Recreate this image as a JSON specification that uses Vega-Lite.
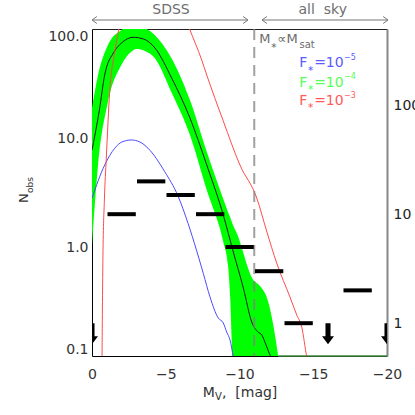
{
"$schema":"https://vega.github.io/schema/vega-lite/v6.json",
"width":295,"height":327,
"autosize":{"type":"none"},
"padding":{"left":92,"top":29,"right":28,"bottom":59},
"background":"white",
"config":{"view":{"stroke":null},"font":"DejaVu Sans","axis":{"grid":false,"labelFont":"DejaVu Sans","labelFontSize":14,"labelColor":"#333333","zindex":1,"labelOverlap":false,"tickSize":0,"domainWidth":1,"domainColor":"#000000","tickColor":"#000000"}},
"datasets":{
"band":[
{"M":0,"hi":18.85,"lo":1.04},{"M":-0.41,"hi":37.8,"lo":5.65},{"M":-1.08,"hi":71.3,"lo":21.4},{"M":-1.99,"hi":97.9,"lo":46.7},{"M":-2.64,"hi":108.8,"lo":61.5},{"M":-3.0,"hi":108.8,"lo":65.5},{"M":-3.59,"hi":102.1,"lo":62.8},{"M":-4.25,"hi":88.1,"lo":54.2},{"M":-5.38,"hi":54.2,"lo":26.4},{"M":-6.64,"hi":22.3,"lo":10.65},{"M":-7.78,"hi":7.49,"lo":3.33},{"M":-8.9,"hi":2.76,"lo":1.11},{"M":-9.22,"hi":2.1,"lo":0.684},{"M":-9.36,"hi":1.885,"lo":0.363},{"M":-9.53,"hi":1.626,"lo":0.092},{"M":-9.81,"hi":1.344,"lo":0.05},{"M":-10.94,"hi":0.498,"lo":0.05},{"M":-11.39,"hi":0.439,"lo":0.05},{"M":-11.95,"hi":0.313,"lo":0.05},{"M":-12.29,"hi":0.1925,"lo":0.05},{"M":-12.63,"hi":0.098,"lo":0.05}],
"median":[
{"M":0,"N":7.76},{"M":-0.2,"N":10.65},{"M":-0.5,"N":18.07},{"M":-0.86,"N":37.84},{"M":-1.49,"N":61.5},{"M":-2.0,"N":74.4},{"M":-2.78,"N":83.9},{"M":-3.5,"N":80.9},{"M":-4.27,"N":66.9},{"M":-5.4,"N":35.5},{"M":-6.64,"N":15.26},{"M":-7.78,"N":5.65},{"M":-8.9,"N":1.966},{"M":-9.58,"N":0.9},{"M":-10.26,"N":0.4206},{"M":-10.83,"N":0.205},{"M":-11.25,"N":0.166},{"M":-11.51,"N":0.156},{"M":-11.8,"N":0.126},{"M":-12.1,"N":0.1},{"M":-12.2,"N":0.095}],
"f5":[
{"M":0,"N":2.815},{"M":-0.86,"N":5.65},{"M":-1.54,"N":8.05},{"M":-2.03,"N":9.19},{"M":-2.66,"N":9.59},{"M":-3.25,"N":9.19},{"M":-3.8,"N":8.05},{"M":-4.93,"N":4.91},{"M":-5.83,"N":2.94},{"M":-6.51,"N":1.65},{"M":-7.1,"N":0.92},{"M":-7.55,"N":0.57},{"M":-8.0,"N":0.348},{"M":-8.56,"N":0.223},{"M":-8.9,"N":0.201},{"M":-9.13,"N":0.166},{"M":-9.36,"N":0.14},{"M":-9.58,"N":0.098},{"M":-9.7,"N":0.08}],
"f3":[
{"M":-0.68,"N":0.098},{"M":-0.74,"N":0.8},{"M":-0.84,"N":2.7},{"M":-0.97,"N":6.55},{"M":-1.2,"N":26.6},{"M":-1.54,"N":61.9},{"M":-1.88,"N":108.8},{"M":-3.5,"N":600},{"M":-5.0,"N":500},{"M":-6.4,"N":120},{"M":-6.6,"N":101.5},{"M":-7.44,"N":51.9},{"M":-7.78,"N":37.8},{"M":-8.9,"N":14.3},{"M":-10.03,"N":5.65},{"M":-11.17,"N":2.815},{"M":-11.84,"N":1.402},{"M":-12.52,"N":0.713},{"M":-13.42,"N":0.348},{"M":-13.88,"N":0.238},{"M":-14.22,"N":0.1845},{"M":-14.56,"N":0.098},{"M":-14.7,"N":0.08}],
"sdss":[{"lo":-1.05,"hi":-2.97,"N":2},{"lo":-3.05,"hi":-4.97,"N":4},{"lo":-5.05,"hi":-6.97,"N":3},{"lo":-7.05,"hi":-8.97,"N":2},{"lo":-9.05,"hi":-10.97,"N":1}],
"allsky":[{"lo":-11.05,"hi":-12.97,"n":3},{"lo":-13.05,"hi":-14.97,"n":1},{"lo":-17.05,"hi":-18.97,"n":2}],
"limits":[{"M":0,"n":1},{"M":-16,"n":1},{"M":-20,"n":1}],
"cut":[{"M":-11}],
"floor":[{"M":-12.63,"M2":-20,"N":0.1}],
"spans":[{"M":0,"M2":-10.576,"N":120.9},{"M":-11.525,"M2":-20.07,"N":120.9}],
"headsL":[{"M":0,"N":120.9},{"M":-11.525,"N":120.9}],
"headsR":[{"M":-10.576,"N":120.9},{"M":-20.07,"N":120.9}],
"regions":[{"t":"SDSS","M":-5.356,"N":138.7},{"t":"all\u00a0\u00a0sky","M":-15.64,"N":138.7}],
"txt13":[{"t":"M","M":-11.34,"N":74.4,"c":"note"},{"t":"∝M","M":-12.56,"N":74.4,"c":"note"}],
"txt14":[
{"t":"F","M":-14.05,"N":44.5,"c":"b"},{"t":"=10","M":-15.06,"N":44.5,"c":"b"},
{"t":"F","M":-14.05,"N":29.55,"c":"g"},{"t":"=10","M":-15.06,"N":29.55,"c":"g"},
{"t":"F","M":-14.05,"N":20.08,"c":"r"},{"t":"=10","M":-15.06,"N":20.08,"c":"r"},
{"t":"M","M":-7.505,"N":0.04206,"c":"axis"},{"t":",\u00a0\u00a0[mag]","M":-8.81,"N":0.04206,"c":"axis"}],
"sub10":[{"t":"sat","M":-14.07,"N":66.9,"c":"note"},{"t":"V","M":-8.34,"N":0.03947,"c":"axis"}],
"sup8":[{"t":"−5","M":-17.08,"N":51.9,"c":"b"},{"t":"−4","M":-17.08,"N":34.5,"c":"g"},{"t":"−3","M":-17.08,"N":23.43,"c":"r"}],
"star8":[{"t":"∗","M":-12.1,"N":66.5,"c":"note"},{"t":"∗","M":-14.6,"N":41.5,"c":"b"},{"t":"∗","M":-14.6,"N":27.56,"c":"g"},{"t":"∗","M":-14.6,"N":18.73,"c":"r"}],
"ytN":[{"t":"N","M":4.339,"N":2.533}],
"ytObs":[{"t":"obs","M":4.0,"N":3.129}]
},
"resolve":{"scale":{"y":"independent"},"axis":{"x":"independent","y":"independent"}},
"layer":[
{"data":{"name":"band"},"mark":{"type":"area","color":"#00ff00","opacity":1,"interpolate":"monotone","clip":true},
 "encoding":{
  "x":{"field":"M","type":"quantitative","scale":{"domain":[-20,0],"reverse":true,"nice":false,"zero":false},
   "axis":{"orient":"bottom","title":null,"values":[-20,-19,-18,-17,-16,-15,-14,-13,-12,-11,-10,-9,-8,-7,-6,-5,-4,-3,-2,-1,0],"format":"d","labelExpr":"datum.value % 5 === 0 ? datum.label : ''","labelPadding":11,"labelFlush":false,"tickColor":"#555555","encode":{"ticks":{"update":{"y2":{"signal":"datum.value % 5 === 0 ? -6 : -3"}}}}}},
  "y":{"field":"hi","type":"quantitative","scale":{"type":"log","domain":[0.1,100],"nice":false},
   "axis":{"orient":"left","title":null,"values":[0.1,0.2,0.3,0.4,0.5,0.6,0.7,0.8,0.9,1,2,3,4,5,6,7,8,9,10,20,30,40,50,60,70,80,90,100],"labelExpr":"datum.value === 100 ? '100.0' : datum.value === 10 ? '10.0' : datum.value === 1 ? '1.0' : datum.value === 0.1 ? '0.1' : ''","labelPadding":4,"labelFlush":true,"encode":{"ticks":{"update":{"x2":{"signal":"indexof([0.1,1,10,100], datum.value) >= 0 ? 8 : 4"}}}}}},
  "y2":{"field":"lo"}}},
{"data":{"name":"floor"},"mark":{"type":"rule","color":"#3c8a3c","strokeWidth":1.5},
 "encoding":{"x":{"field":"M","type":"quantitative","scale":{"domain":[-20,0],"reverse":true,"nice":false,"zero":false},"axis":null},"x2":{"field":"M2"},
  "y":{"field":"N","type":"quantitative","scale":{"type":"log","domain":[0.1,100],"nice":false},"axis":null}}},
{"data":{"name":"median"},"mark":{"type":"line","color":"#1a1a1a","strokeWidth":1,"interpolate":"monotone","clip":true},
 "encoding":{"x":{"field":"M","type":"quantitative","scale":{"domain":[-20,0],"reverse":true,"nice":false,"zero":false},"axis":null},
  "y":{"field":"N","type":"quantitative","scale":{"type":"log","domain":[0.1,100],"nice":false},"axis":null}}},
{"data":{"name":"f5"},"mark":{"type":"line","color":"#4b4bff","strokeWidth":1,"interpolate":"monotone","clip":true},
 "encoding":{"x":{"field":"M","type":"quantitative","scale":{"domain":[-20,0],"reverse":true,"nice":false,"zero":false},"axis":null},
  "y":{"field":"N","type":"quantitative","scale":{"type":"log","domain":[0.1,100],"nice":false},"axis":null}}},
{"data":{"name":"f3"},"mark":{"type":"line","color":"#ff4b4b","strokeWidth":1,"interpolate":"monotone","clip":true},
 "encoding":{"x":{"field":"M","type":"quantitative","scale":{"domain":[-20,0],"reverse":true,"nice":false,"zero":false},"axis":null},
  "y":{"field":"N","type":"quantitative","scale":{"type":"log","domain":[0.1,100],"nice":false},"axis":null}}},
{"data":{"name":"cut"},"mark":{"type":"rule","color":"#808080","opacity":0.75,"strokeWidth":2,"strokeDash":[11,7]},
 "encoding":{"x":{"field":"M","type":"quantitative","scale":{"domain":[-20,0],"reverse":true,"nice":false,"zero":false},"axis":null}}},
{"data":{"name":"sdss"},"mark":{"type":"rule","color":"#000000","strokeWidth":4,"strokeCap":"butt"},
 "encoding":{"x":{"field":"lo","type":"quantitative","scale":{"domain":[-20,0],"reverse":true,"nice":false,"zero":false},"axis":null},"x2":{"field":"hi"},
  "y":{"field":"N","type":"quantitative","scale":{"type":"log","domain":[0.1,100],"nice":false},"axis":null}}},
{"data":{"name":"allsky"},"mark":{"type":"rule","color":"#000000","strokeWidth":4,"strokeCap":"butt"},
 "encoding":{"x":{"field":"lo","type":"quantitative","scale":{"domain":[-20,0],"reverse":true,"nice":false,"zero":false},
   "axis":{"orient":"top","title":null,"labels":false,"values":[-20,-19,-18,-17,-16,-15,-14,-13,-12,-11,-10,-9,-8,-7,-6,-5,-4,-3,-2,-1,0],"domainColor":"#222222","tickColor":"#555555","encode":{"ticks":{"update":{"y2":{"signal":"datum.value % 5 === 0 ? 6 : 3"}}}}}},
  "x2":{"field":"hi"},
  "y":{"field":"n","type":"quantitative","scale":{"type":"log","domain":[0.5,500],"nice":false},
   "axis":{"orient":"right","title":null,"values":[0.5,0.6,0.7,0.8,0.9,1,2,3,4,5,6,7,8,9,10,20,30,40,50,60,70,80,90,100,200,300,400,500],"labelExpr":"datum.value === 1 ? '1' : datum.value === 10 ? '10' : datum.value === 100 ? '100' : ''","labelPadding":6,"labelFlush":false,"labelColor":"#222222","domainColor":"#888888","domainWidth":2,"tickColor":"#888888","encode":{"ticks":{"update":{"x2":{"signal":"indexof([1,10,100], datum.value) >= 0 ? -8 : -4"}}}}}}}},
{"data":{"name":"limits"},"mark":{"type":"point","shape":"M-0.24,0L0.24,0L0.24,1.24L0.57,1.24L0,2L-0.57,1.24L-0.24,1.24Z","size":441,"filled":true,"color":"#000000","strokeWidth":0,"opacity":1,"clip":true},
 "encoding":{"x":{"field":"M","type":"quantitative","scale":{"domain":[-20,0],"reverse":true,"nice":false,"zero":false},"axis":null},
  "y":{"field":"n","type":"quantitative","scale":{"type":"log","domain":[0.5,500],"nice":false},"axis":null}}},
{"data":{"name":"spans"},"mark":{"type":"rule","color":"#777777","strokeWidth":1},
 "encoding":{"x":{"field":"M","type":"quantitative","scale":{"domain":[-20,0],"reverse":true,"nice":false,"zero":false},"axis":null},"x2":{"field":"M2"},
  "y":{"field":"N","type":"quantitative","scale":{"type":"log","domain":[0.1,100],"nice":false},"axis":null}}},
{"data":{"name":"headsL"},"mark":{"type":"point","shape":"M1.4,-1L0,0L1.4,1","size":49,"filled":false,"stroke":"#777777","strokeWidth":1,"opacity":1},
 "encoding":{"x":{"field":"M","type":"quantitative","scale":{"domain":[-20,0],"reverse":true,"nice":false,"zero":false},"axis":null},
  "y":{"field":"N","type":"quantitative","scale":{"type":"log","domain":[0.1,100],"nice":false},"axis":null}}},
{"data":{"name":"headsR"},"mark":{"type":"point","shape":"M-1.4,-1L0,0L-1.4,1","size":49,"filled":false,"stroke":"#777777","strokeWidth":1,"opacity":1},
 "encoding":{"x":{"field":"M","type":"quantitative","scale":{"domain":[-20,0],"reverse":true,"nice":false,"zero":false},"axis":null},
  "y":{"field":"N","type":"quantitative","scale":{"type":"log","domain":[0.1,100],"nice":false},"axis":null}}},
{"data":{"name":"regions"},"mark":{"type":"text","align":"center","baseline":"alphabetic","fontSize":14,"font":"DejaVu Sans","color":"#6e6e6e"},
 "encoding":{"x":{"field":"M","type":"quantitative","scale":{"domain":[-20,0],"reverse":true,"nice":false,"zero":false},"axis":null},
  "y":{"field":"N","type":"quantitative","scale":{"type":"log","domain":[0.1,100],"nice":false},"axis":null},"text":{"field":"t"}}},
{"data":{"name":"txt13"},"mark":{"type":"text","align":"left","baseline":"alphabetic","fontSize":13,"font":"DejaVu Sans"},
 "encoding":{"x":{"field":"M","type":"quantitative","scale":{"domain":[-20,0],"reverse":true,"nice":false,"zero":false},"axis":null},
  "y":{"field":"N","type":"quantitative","scale":{"type":"log","domain":[0.1,100],"nice":false},"axis":null},"text":{"field":"t"},
  "color":{"field":"c","type":"nominal","scale":{"domain":["note","axis","b","g","r"],"range":["#6b6b6b","#333333","#5b5bff","#55ff55","#ff5b5b"]},"legend":null}}},
{"data":{"name":"txt14"},"mark":{"type":"text","align":"left","baseline":"alphabetic","fontSize":14,"font":"DejaVu Sans"},
 "encoding":{"x":{"field":"M","type":"quantitative","scale":{"domain":[-20,0],"reverse":true,"nice":false,"zero":false},"axis":null},
  "y":{"field":"N","type":"quantitative","scale":{"type":"log","domain":[0.1,100],"nice":false},"axis":null},"text":{"field":"t"},
  "color":{"field":"c","type":"nominal","scale":{"domain":["note","axis","b","g","r"],"range":["#6b6b6b","#333333","#5b5bff","#55ff55","#ff5b5b"]},"legend":null}}},
{"data":{"name":"sub10"},"mark":{"type":"text","align":"left","baseline":"alphabetic","fontSize":10,"font":"DejaVu Sans"},
 "encoding":{"x":{"field":"M","type":"quantitative","scale":{"domain":[-20,0],"reverse":true,"nice":false,"zero":false},"axis":null},
  "y":{"field":"N","type":"quantitative","scale":{"type":"log","domain":[0.1,100],"nice":false},"axis":null},"text":{"field":"t"},
  "color":{"field":"c","type":"nominal","scale":{"domain":["note","axis","b","g","r"],"range":["#6b6b6b","#333333","#5b5bff","#55ff55","#ff5b5b"]},"legend":null}}},
{"data":{"name":"sup8"},"mark":{"type":"text","align":"left","baseline":"alphabetic","fontSize":8,"font":"DejaVu Sans"},
 "encoding":{"x":{"field":"M","type":"quantitative","scale":{"domain":[-20,0],"reverse":true,"nice":false,"zero":false},"axis":null},
  "y":{"field":"N","type":"quantitative","scale":{"type":"log","domain":[0.1,100],"nice":false},"axis":null},"text":{"field":"t"},
  "color":{"field":"c","type":"nominal","scale":{"domain":["note","axis","b","g","r"],"range":["#6b6b6b","#333333","#5b5bff","#55ff55","#ff5b5b"]},"legend":null}}},
{"data":{"name":"star8"},"mark":{"type":"text","align":"left","baseline":"alphabetic","fontSize":8,"font":"DejaVu Sans"},
 "encoding":{"x":{"field":"M","type":"quantitative","scale":{"domain":[-20,0],"reverse":true,"nice":false,"zero":false},"axis":null},
  "y":{"field":"N","type":"quantitative","scale":{"type":"log","domain":[0.1,100],"nice":false},"axis":null},"text":{"field":"t"},
  "color":{"field":"c","type":"nominal","scale":{"domain":["note","axis","b","g","r"],"range":["#6b6b6b","#333333","#5b5bff","#55ff55","#ff5b5b"]},"legend":null}}},
{"data":{"name":"ytN"},"mark":{"type":"text","align":"left","baseline":"alphabetic","angle":270,"fontSize":13,"font":"DejaVu Sans","color":"#333333"},
 "encoding":{"x":{"field":"M","type":"quantitative","scale":{"domain":[-20,0],"reverse":true,"nice":false,"zero":false},"axis":null},
  "y":{"field":"N","type":"quantitative","scale":{"type":"log","domain":[0.1,100],"nice":false},"axis":null},"text":{"field":"t"}}},
{"data":{"name":"ytObs"},"mark":{"type":"text","align":"left","baseline":"alphabetic","angle":270,"fontSize":9,"font":"DejaVu Sans","color":"#333333"},
 "encoding":{"x":{"field":"M","type":"quantitative","scale":{"domain":[-20,0],"reverse":true,"nice":false,"zero":false},"axis":null},
  "y":{"field":"N","type":"quantitative","scale":{"type":"log","domain":[0.1,100],"nice":false},"axis":null},"text":{"field":"t"}}}
]
}
